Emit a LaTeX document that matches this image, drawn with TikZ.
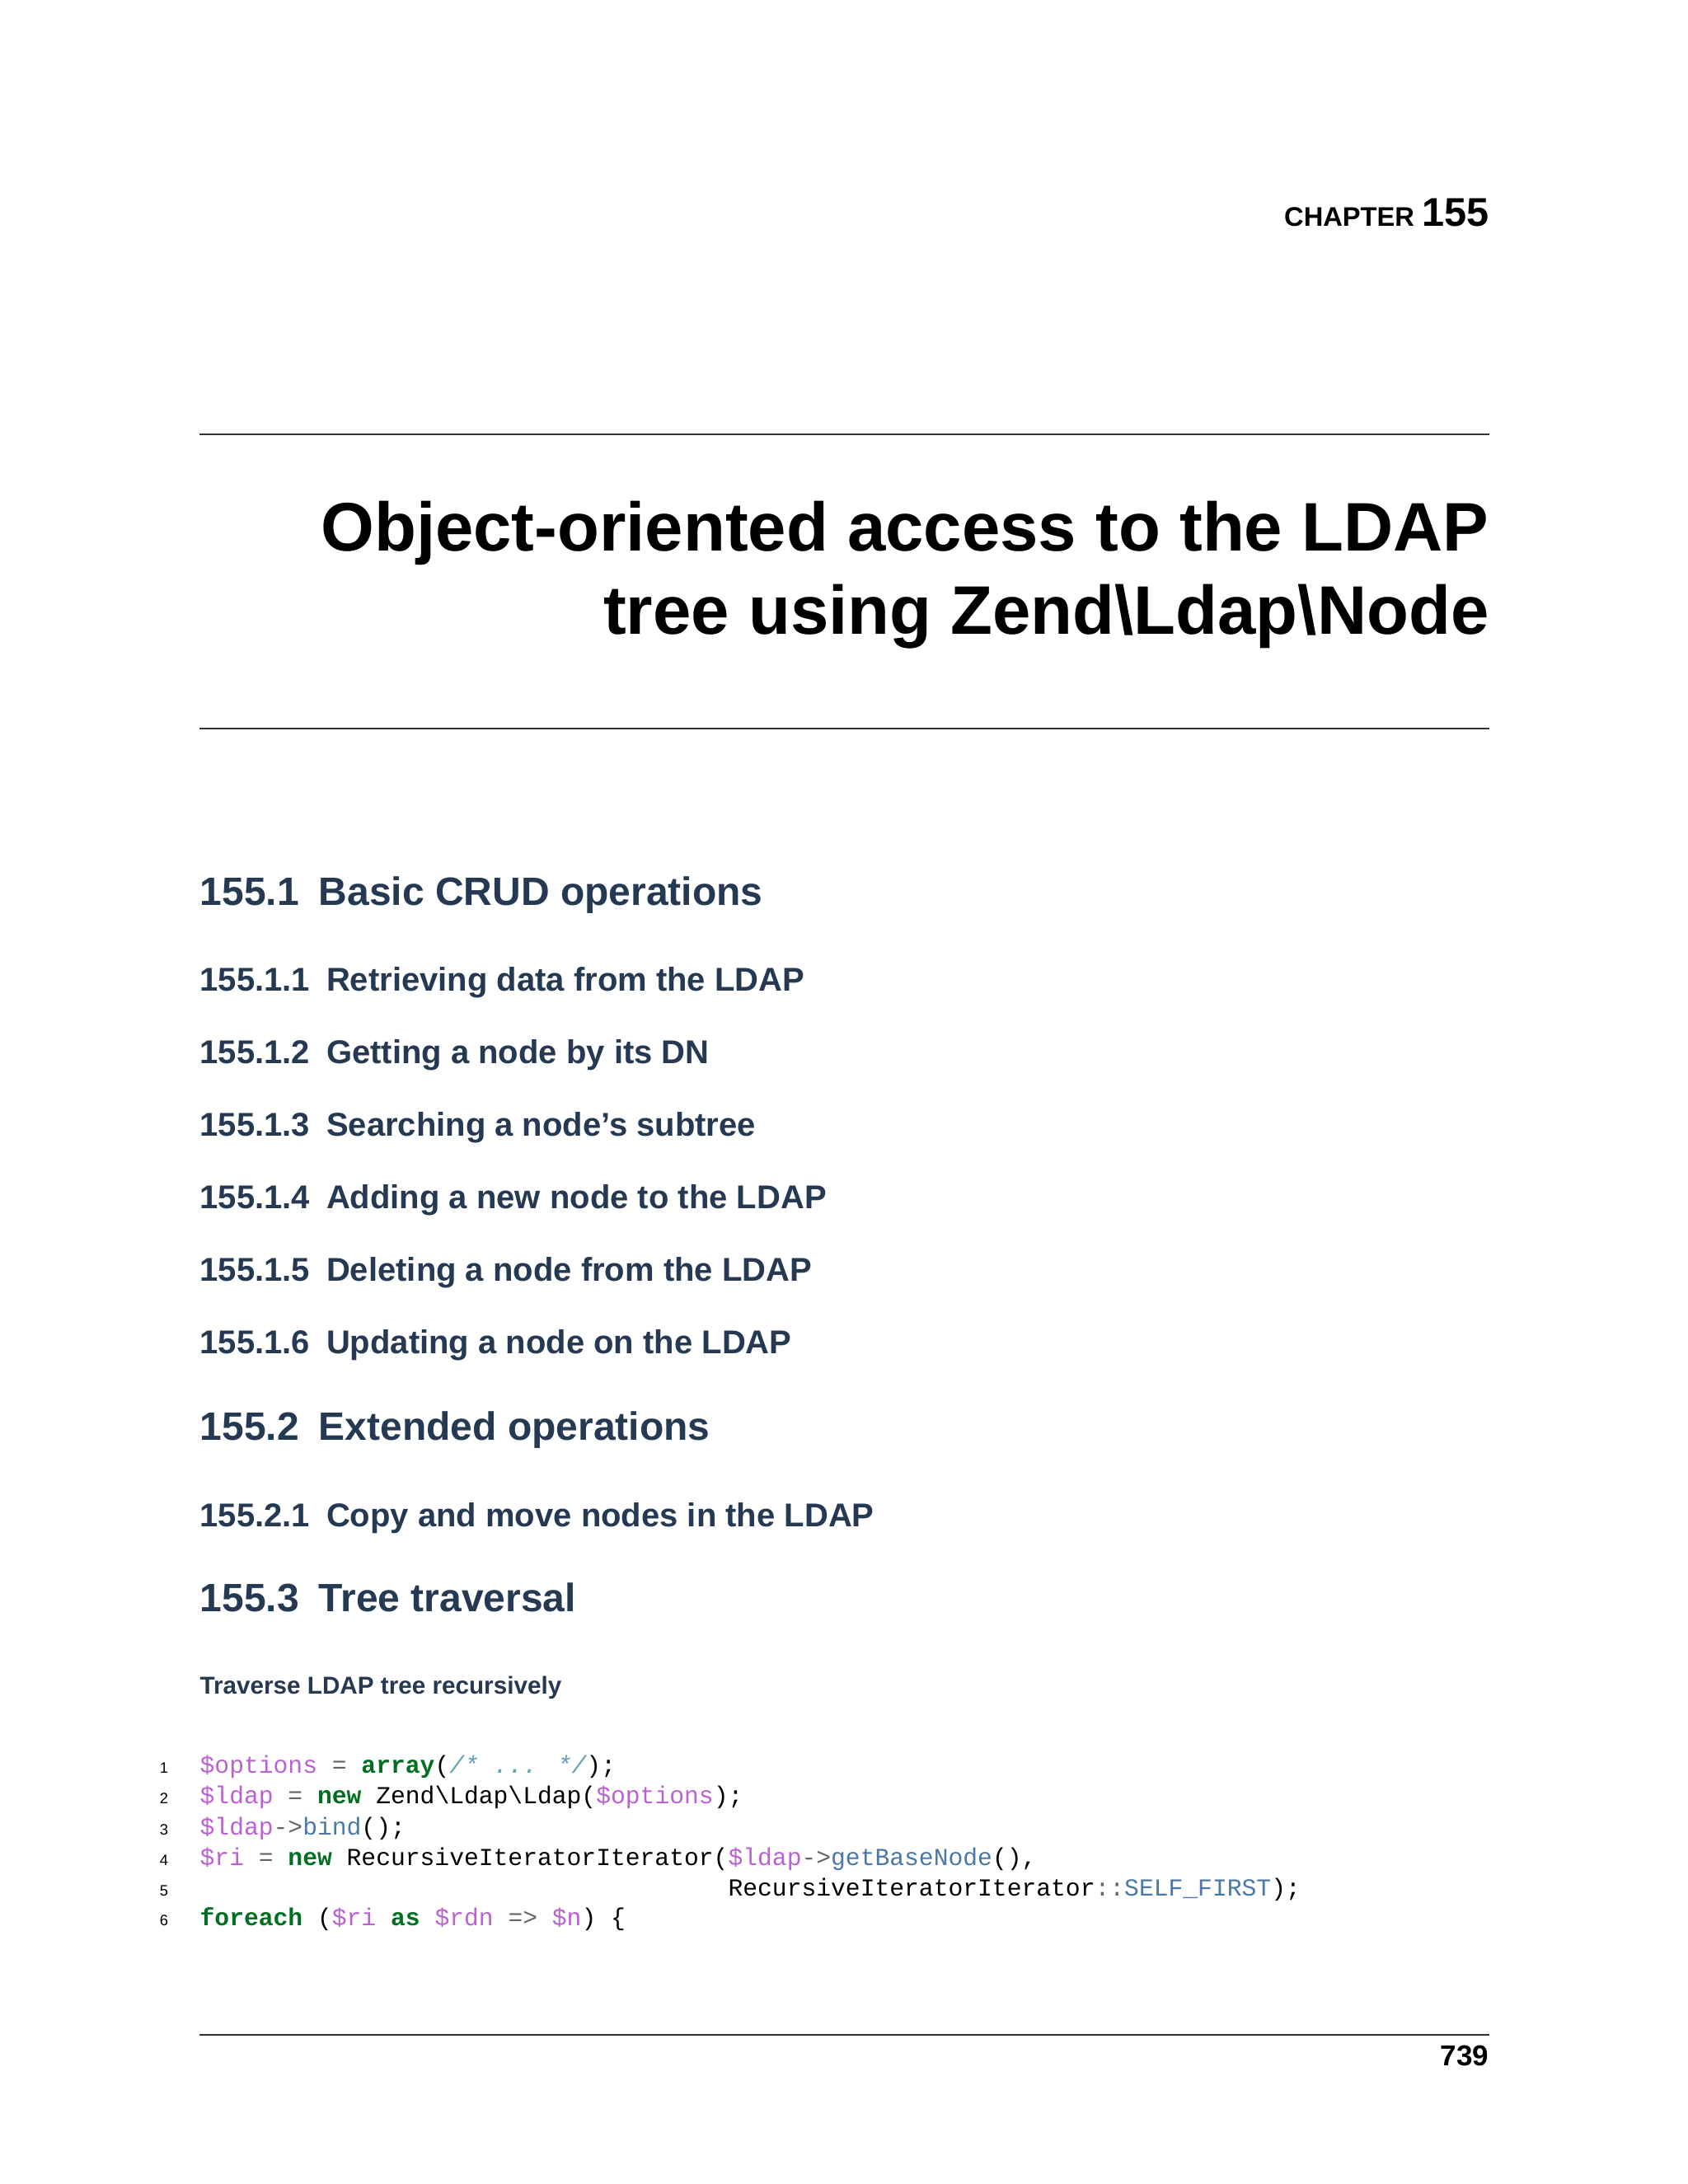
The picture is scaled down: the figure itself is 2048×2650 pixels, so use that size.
\documentclass[tikz,border=0pt]{standalone}
\usepackage{fontspec}
\setmainfont{Liberation Sans}
\newfontfamily\codefont{Liberation Mono}
\definecolor{hd}{HTML}{253A52}
\definecolor{vr}{HTML}{BB60D5}
\definecolor{kw}{HTML}{007020}
\definecolor{cm}{HTML}{60A0B0}
\definecolor{fn}{HTML}{4A78A8}
\definecolor{op}{HTML}{666666}
\newcommand{\V}[1]{\textcolor{vr}{#1}}
\newcommand{\K}[1]{\textcolor{kw}{\bfseries #1}}
\newcommand{\Cm}[1]{\textcolor{cm}{\itshape #1}}
\newcommand{\F}[1]{\textcolor{fn}{#1}}
\newcommand{\Op}[1]{\textcolor{op}{#1}}
\begin{document}
\begin{tikzpicture}[x=0.3pt,y=-0.3pt,
  sec/.style={anchor=base west,inner sep=0,text=hd,font=\fontsize{14.4}{17}\selectfont\bfseries},
  sub/.style={anchor=base west,inner sep=0,text=hd,font=\fontsize{12}{14}\selectfont\bfseries},
  code/.style={anchor=base west,inner sep=0,font=\codefont\fontsize{8.9}{10}\selectfont},
  ln/.style={anchor=base,inner sep=0,font=\fontsize{5.5}{6}\selectfont},
  ttl/.style={anchor=base east,inner sep=0,font=\fontsize{25}{30}\selectfont\bfseries},
  rule/.style={line width=0.6pt,draw=black!80}]
\useasboundingbox (0,0) rectangle (2048,2650);
\node[anchor=base east,inner sep=0,font=\bfseries] (ch) at (1807,274) {\fontsize{9.8}{12}\selectfont CHAPTER \fontsize{14.6}{18}\selectfont 155};
\coordinate (r1a) at (242,527); \coordinate (r1b) at (1807,527);
\draw[rule] (r1a) -- (r1b);
\node[ttl] (t1) at (1807,668) {Object-oriented access to the LDAP};
\node[ttl] (t2) at (1807,769) {tree using Zend\textbackslash Ldap\textbackslash Node};
\coordinate (r2a) at (242,884); \coordinate (r2b) at (1807,884);
\draw[rule] (r2a) -- (r2b);
\node[sec] (s1) at (242,1098) {155.1\hspace{0.5em}Basic CRUD operations};
\node[sub] (s11) at (242,1202) {155.1.1\hspace{0.5em}Retrieving data from the LDAP};
\node[sub] (s12) at (242,1290) {155.1.2\hspace{0.5em}Getting a node by its DN};
\node[sub] (s13) at (242,1378) {155.1.3\hspace{0.5em}Searching a node’s subtree};
\node[sub] (s14) at (242,1466) {155.1.4\hspace{0.5em}Adding a new node to the LDAP};
\node[sub] (s15) at (242,1554) {155.1.5\hspace{0.5em}Deleting a node from the LDAP};
\node[sub] (s16) at (242,1642) {155.1.6\hspace{0.5em}Updating a node on the LDAP};
\node[sec] (s2) at (242,1747) {155.2\hspace{0.5em}Extended operations};
\node[sub] (s21) at (242,1852) {155.2.1\hspace{0.5em}Copy and move nodes in the LDAP};
\node[sec] (s3) at (242,1955) {155.3\hspace{0.5em}Tree traversal};
\node[anchor=base west,inner sep=0,text=hd,font=\fontsize{8.9}{10}\selectfont\bfseries] (tr) at (242,2055) {Traverse LDAP tree recursively};
\foreach \i/\y in {1/2151,2/2188,3/2226,4/2263,5/2300,6/2336}{\node[ln] (n\i) at (199,\y) {\i};}
\node[code] (c1) at (242,2151) {\V{\$options} \Op{=} \K{array}(\Cm{/* ... */});};
\node[code] (c2) at (242,2188) {\V{\$ldap} \Op{=} \K{new} Zend\textbackslash Ldap\textbackslash Ldap(\V{\$options});};
\node[code] (c3) at (242,2226) {\V{\$ldap}\Op{->}\F{bind}();};
\node[code] (c4) at (242,2263) {\V{\$ri} \Op{=} \K{new} RecursiveIteratorIterator(\V{\$ldap}\Op{->}\F{getBaseNode}(),};
\node[code] (c5) at (242,2300) {\phantom{\$ri = new RecursiveIteratorIterator(}RecursiveIteratorIterator\Op{::}\F{SELF\_FIRST});};
\node[code] (c6) at (242,2336) {\K{foreach} (\V{\$ri} \K{as} \V{\$rdn} \Op{=>} \V{\$n}) \{};
\coordinate (r3a) at (242,2469); \coordinate (r3b) at (1807,2469);
\draw[rule] (r3a) -- (r3b);
\node[anchor=base east,inner sep=0,font=\fontsize{10.5}{12}\selectfont\bfseries] (pg) at (1807,2506) {739};
\end{tikzpicture}
\end{document}
